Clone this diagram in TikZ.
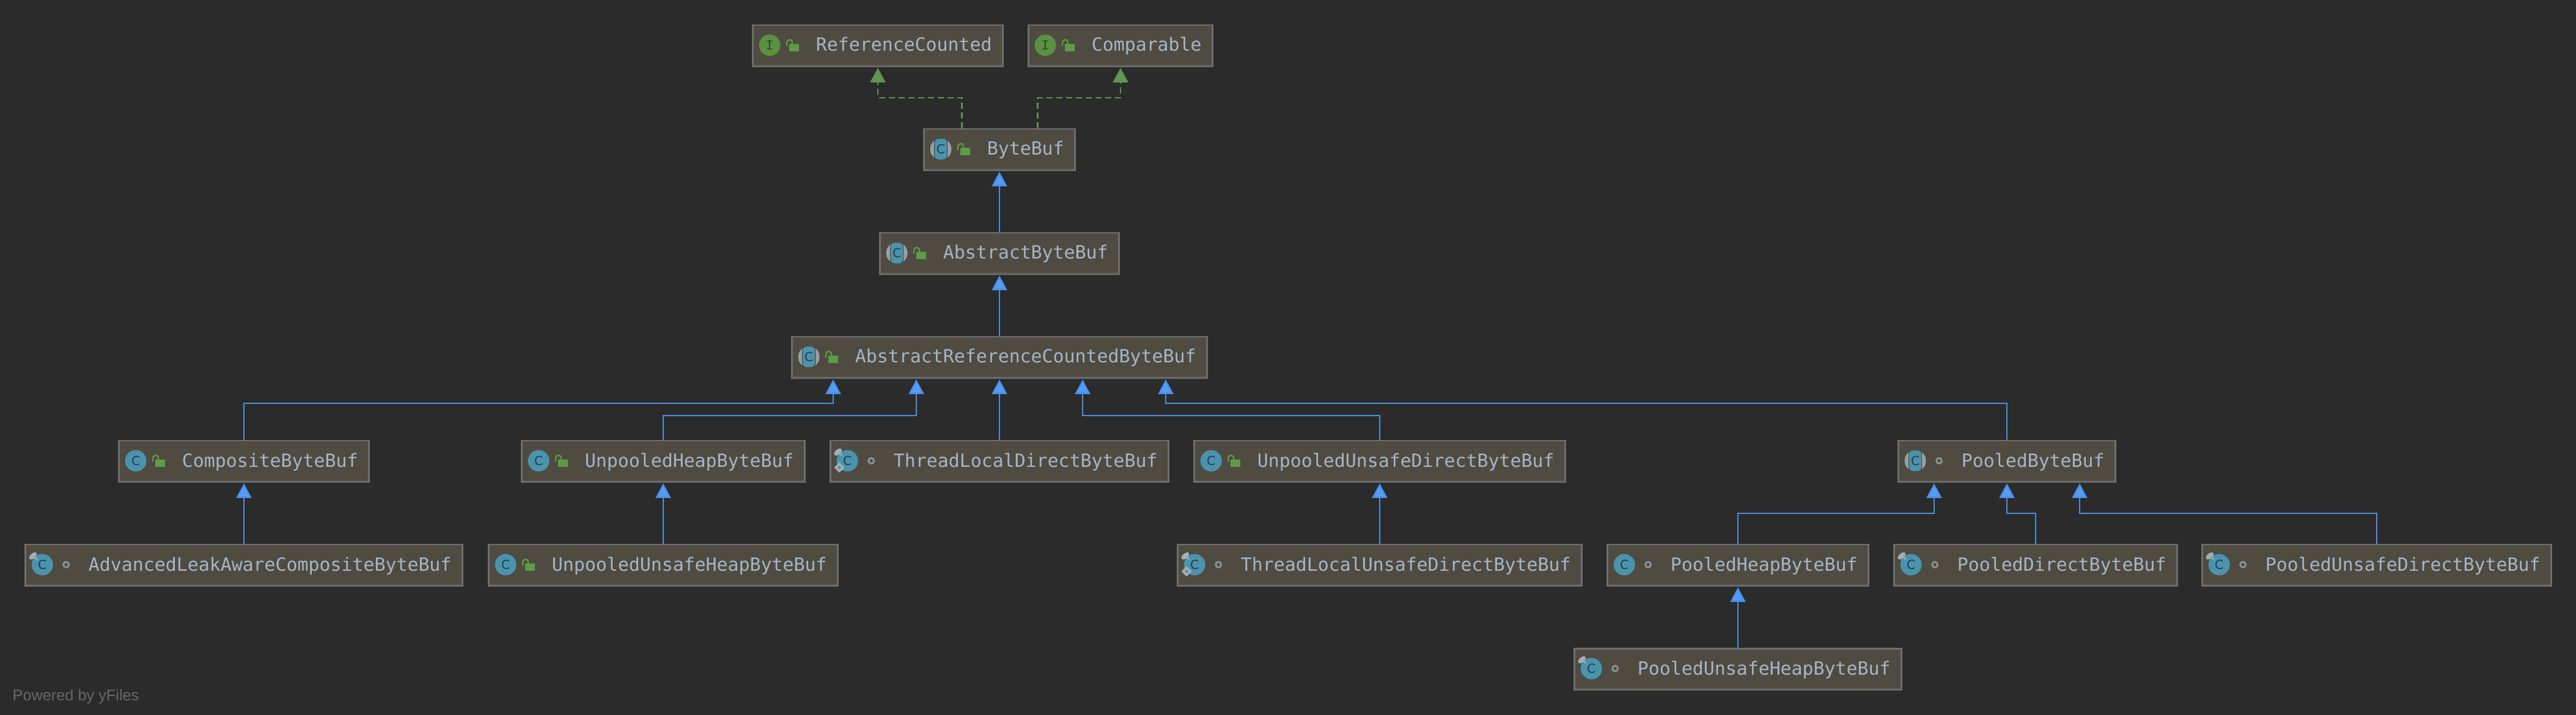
\documentclass[tikz,border=0pt]{standalone}
\usepackage{fontspec}
\setmonofont{DejaVu Sans Mono}
\newfontfamily\iconfont{DejaVu Sans}
\newfontfamily\footfont{Liberation Sans}
\usetikzlibrary{arrows.meta}
\definecolor{canvasgrey}{HTML}{2B2B2B}
\definecolor{boxfill}{HTML}{4F4B41}
\definecolor{boxline}{HTML}{6E6E6E}
\definecolor{stripgrey}{HTML}{5D5C58}
\definecolor{labelgrey}{HTML}{A5B5C8}
\definecolor{footgrey}{HTML}{676767}
\definecolor{linkblue}{HTML}{4A90E8}
\definecolor{tipblue}{HTML}{549CF8}
\definecolor{linkgreen}{HTML}{5F9350}
\definecolor{tipgreen}{HTML}{629755}
\definecolor{classblue}{HTML}{4A93AD}
\definecolor{letterblue}{HTML}{263B4A}
\definecolor{ifacegreen}{HTML}{5A9140}
\definecolor{lettergreen}{HTML}{2F4A28}
\definecolor{lockgreen}{HTML}{5C9C45}
\definecolor{markgrey}{HTML}{A3ADB3}
\definecolor{ringgrey}{HTML}{8A9093}
\definecolor{sidegrey}{HTML}{9A9FA3}
\tikzset{
	classbox/.style={draw=boxline,fill=boxfill,line width=.025cm,inner xsep=.18cm,inner ysep=0pt,
		text=labelgrey,font=\ttfamily\fontsize{8.5}{10}\selectfont,text height=.4275cm,text depth=.2475cm,
		execute at begin node={\hspace*{.855cm}}},
	extends/.style={draw=linkblue,line width=.025cm,shorten >=.01cm,
		-{Triangle[length=.24cm,width=.25cm,fill=tipblue]}},
	implements/.style={draw=linkgreen,line width=.025cm,shorten >=.01cm,dash pattern=on .1cm off .06cm,
		-{Triangle[length=.24cm,width=.25cm,fill=tipgreen,sep=0pt]}},
	stripline/.style={draw=stripgrey,line width=.02cm},
	classicon/.pic={
		\fill[classblue] (.29,-.34) circle (.175);
		\node[text=letterblue,font=\iconfont\fontsize{5.8}{6}\selectfont,inner sep=0pt] (letter) at (.29,-.34) {C};
	},
	abstracticon/.pic={
		\fill[sidegrey] (.29,-.34) circle (.175);
		\fill[classblue,draw=boxfill,line width=.012cm,rounded corners=.07cm] (.185,-.165) rectangle (.395,-.515);
		\node[text=letterblue,font=\iconfont\fontsize{5.8}{6}\selectfont,inner sep=0pt] (letter) at (.29,-.34) {C};
	},
	ifaceicon/.pic={
		\fill[ifacegreen] (.29,-.34) circle (.175);
		\node[text=lettergreen,font=\ttfamily\fontsize{5.8}{6}\selectfont,inner sep=0pt] (letter) at (.29,-.34) {I};
	},
	lockmark/.pic={
		\fill[lockgreen] (.61,-.317) rectangle (.765,-.44);
		\draw[lockgreen,line width=.022cm] (.57,-.355) -- (.57,-.295) arc (180:10:.045) -- (.66,-.32);
	},
	ringmark/.pic={
		\draw[ringgrey,line width=.03cm] (.68,-.34) circle (.045);
	},
	pinmark/.pic={
		\fill[markgrey,rotate around={40:(.137,-.197)}] (.137,-.197) ellipse (.075 and .042);
		\fill[markgrey] (.165,-.235) -- (.215,-.27) -- (.195,-.215) -- cycle;
	},
	staticmark/.pic={
		\fill[markgrey] (.16,-.365) -- (.245,-.45) -- (.16,-.535) -- (.075,-.45) -- cycle;
		\fill[classblue] (.16,-.42) -- (.19,-.45) -- (.16,-.48) -- (.13,-.45) -- cycle;
	}
}
\begin{document}
\begin{tikzpicture}
	\useasboundingbox (0,0) rectangle (42.14,-11.7);
	\fill[canvasgrey] (0,0) rectangle (42.14,-11.7);
	
	\node[classbox] (refcounted) at (14.36,-.75) {ReferenceCounted};
	\node[classbox] (comparable) at (18.33,-.75) {Comparable};
	\node[classbox] (bytebuf) at (16.35,-2.45) {ByteBuf};
	\node[classbox] (abstractbuf) at (16.35,-4.15) {AbstractByteBuf};
	\node[classbox] (refcountbuf) at (16.35,-5.85) {AbstractReferenceCountedByteBuf};
	
	\node[classbox] (compositebuf) at (3.99,-7.55) {CompositeByteBuf};
	\node[classbox] (heapbuf) at (10.85,-7.55) {UnpooledHeapByteBuf};
	\node[classbox] (tldirectbuf) at (16.35,-7.55) {ThreadLocalDirectByteBuf};
	\node[classbox] (directbuf) at (22.57,-7.55) {UnpooledUnsafeDirectByteBuf};
	\node[classbox] (pooledbuf) at (32.83,-7.55) {PooledByteBuf};
	
	\node[classbox] (leakbuf) at (3.99,-9.25) {AdvancedLeakAwareCompositeByteBuf};
	\node[classbox] (unsafeheapbuf) at (10.85,-9.25) {UnpooledUnsafeHeapByteBuf};
	\node[classbox] (tlunsafebuf) at (22.57,-9.25) {ThreadLocalUnsafeDirectByteBuf};
	\node[classbox] (pheapbuf) at (28.43,-9.25) {PooledHeapByteBuf};
	\node[classbox] (pdirectbuf) at (33.3,-9.25) {PooledDirectByteBuf};
	\node[classbox] (punsafedirectbuf) at (38.88,-9.25) {PooledUnsafeDirectByteBuf};
	
	\node[classbox] (punsafeheapbuf) at (28.43,-10.95) {PooledUnsafeHeapByteBuf};
	
	\node[anchor=base west,inner sep=0pt,text=footgrey,font=\footfont\fontsize{7.2}{8}\selectfont] (footer) at (.2,-11.46) {Powered by yFiles};
	
	\foreach \n in {refcounted,comparable,bytebuf,abstractbuf,refcountbuf,compositebuf,heapbuf,tldirectbuf,directbuf,pooledbuf,leakbuf,unsafeheapbuf,tlunsafebuf,pheapbuf,pdirectbuf,punsafedirectbuf,punsafeheapbuf}
		\draw[stripline] ([shift={(.025,.03)}]\n.south west) -- ([shift={(-.025,.03)}]\n.south east);
	
	\foreach \n in {refcounted,comparable}
		\pic (\n-) at (\n.north west) {ifaceicon};
	\foreach \n in {bytebuf,abstractbuf,refcountbuf,pooledbuf}
		\pic (\n-) at (\n.north west) {abstracticon};
	\foreach \n in {compositebuf,heapbuf,tldirectbuf,directbuf,leakbuf,unsafeheapbuf,tlunsafebuf,pheapbuf,pdirectbuf,punsafedirectbuf,punsafeheapbuf}
		\pic (\n-) at (\n.north west) {classicon};
	\foreach \n in {tldirectbuf,leakbuf,tlunsafebuf,pdirectbuf,punsafedirectbuf,punsafeheapbuf}
		\pic at (\n.north west) {pinmark};
	\foreach \n in {tldirectbuf,tlunsafebuf}
		\pic at (\n.north west) {staticmark};
	\foreach \n in {refcounted,comparable,bytebuf,abstractbuf,refcountbuf,compositebuf,heapbuf,directbuf,unsafeheapbuf}
		\pic at (\n.north west) {lockmark};
	\foreach \n in {tldirectbuf,pooledbuf,leakbuf,tlunsafebuf,pheapbuf,pdirectbuf,punsafedirectbuf,punsafeheapbuf}
		\pic at (\n.north west) {ringmark};
	
	\draw[implements] ([xshift=-.615cm]bytebuf.north) -- ++(0,.5) -| (refcounted.south);
	\draw[implements] ([xshift=.625cm]bytebuf.north) -- ++(0,.5) -| (comparable.south);
	\draw[extends] (abstractbuf.north) -- (bytebuf.south);
	\draw[extends] (refcountbuf.north) -- (abstractbuf.south);
	
	\draw[extends] (compositebuf.north) -- ++(0,.6) -| ([xshift=-2.72cm]refcountbuf.south);
	\draw[extends] (heapbuf.north) -- ++(0,.4) -| ([xshift=-1.36cm]refcountbuf.south);
	\draw[extends] (tldirectbuf.north) -- (refcountbuf.south);
	\draw[extends] (directbuf.north) -- ++(0,.4) -| ([xshift=1.36cm]refcountbuf.south);
	\draw[extends] (pooledbuf.north) -- ++(0,.6) -| ([xshift=2.72cm]refcountbuf.south);
	
	\draw[extends] (leakbuf.north) -- (compositebuf.south);
	\draw[extends] (unsafeheapbuf.north) -- (heapbuf.south);
	\draw[extends] (tlunsafebuf.north) -- (directbuf.south);
	\draw[extends] (punsafeheapbuf.north) -- (pheapbuf.south);
	
	\draw[extends] (pheapbuf.north) -- ++(0,.5) -| ([xshift=-1.19cm]pooledbuf.south);
	\draw[extends] (pdirectbuf.north) -- ++(0,.5) -| (pooledbuf.south);
	\draw[extends] (punsafedirectbuf.north) -- ++(0,.5) -| ([xshift=1.19cm]pooledbuf.south);
\end{tikzpicture}
\end{document}
